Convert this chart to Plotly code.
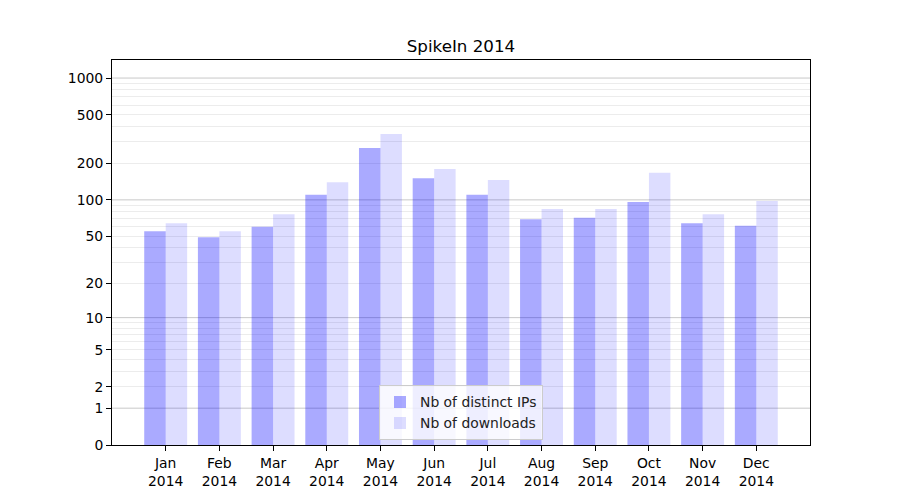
import numpy as np
import plotly.graph_objects as go

months = ["Jan", "Feb", "Mar", "Apr", "May", "Jun", "Jul", "Aug", "Sep", "Oct", "Nov", "Dec"]
year = "2014"
distinct_ips = [55, 49, 60, 110, 267, 151, 110, 69, 71, 96, 64, 61]
downloads = [64, 55, 76, 140, 348, 180, 146, 84, 84, 167, 76, 98]
tick_values = [0, 1, 2, 5, 10, 20, 50, 100, 200, 500, 1000]
major_grid_values = [1, 10, 100, 1000]
minor_grid_values = [m * d for d in (1, 10, 100) for m in range(2, 10)]


def tr(v):
    return np.log10(1 + np.asarray(v, dtype=float))


labels = [f"{m}<br>{year}" for m in months]
xs = list(range(len(months)))

fig = go.Figure()
fig.add_trace(go.Bar(x=xs, y=tr(distinct_ips), name="Nb of distinct IPs",
                     marker=dict(color="rgba(0,0,255,0.333)", line=dict(width=0)),
                     customdata=distinct_ips))
fig.add_trace(go.Bar(x=xs, y=tr(downloads), name="Nb of downloads",
                     marker=dict(color="rgba(0,0,255,0.135)", line=dict(width=0)),
                     customdata=downloads))

shapes = []
for v in major_grid_values:
    yv = float(tr(v))
    shapes.append(dict(type="line", xref="paper", x0=0, x1=1, yref="y", y0=yv, y1=yv,
                       line=dict(color="rgb(200,200,200)", width=1), layer="below"))

font = dict(family="DejaVu Sans", size=13.9, color="black")
fig.update_layout(
    width=900, height=500,
    margin=dict(l=104, r=98, t=52, b=63),
    paper_bgcolor="white", plot_bgcolor="white",
    barmode="group", bargap=0.2, bargroupgap=0,
    font=font,
    title=dict(text="SpikeIn 2014", x=453 / 900, xanchor="center",
               y=1 - 38 / 500, yanchor="middle", yref="container",
               font=dict(family="DejaVu Sans", size=16.7, color="black")),
    showlegend=True,
    legend=dict(x=0.5, xanchor="center", y=0.012, yanchor="bottom",
                bgcolor="rgba(255,255,255,0.8)", bordercolor="#cccccc", borderwidth=1,
                font=dict(family="DejaVu Sans", size=13.9, color="#222"),
                itemwidth=30),
    shapes=shapes,
)
fig.update_xaxes(
    range=[-1, 12], tickvals=xs, ticktext=labels,
    showline=True, mirror=True, linecolor="black", linewidth=1,
    ticks="outside", ticklen=5, tickcolor="black", showgrid=False, zeroline=False,
)
fig.update_yaxes(
    range=[0, float(tr(1405))], tickvals=tr(tick_values), ticktext=[str(t) for t in tick_values],
    showline=True, mirror=True, linecolor="black", linewidth=1,
    ticks="outside", ticklen=5, tickcolor="black", showgrid=False, zeroline=False,
    minor=dict(tickvals=tr(minor_grid_values), showgrid=True, gridcolor="rgb(236,236,236)",
               gridwidth=1, ticks=""),
)

fig.write_html("out.html")
